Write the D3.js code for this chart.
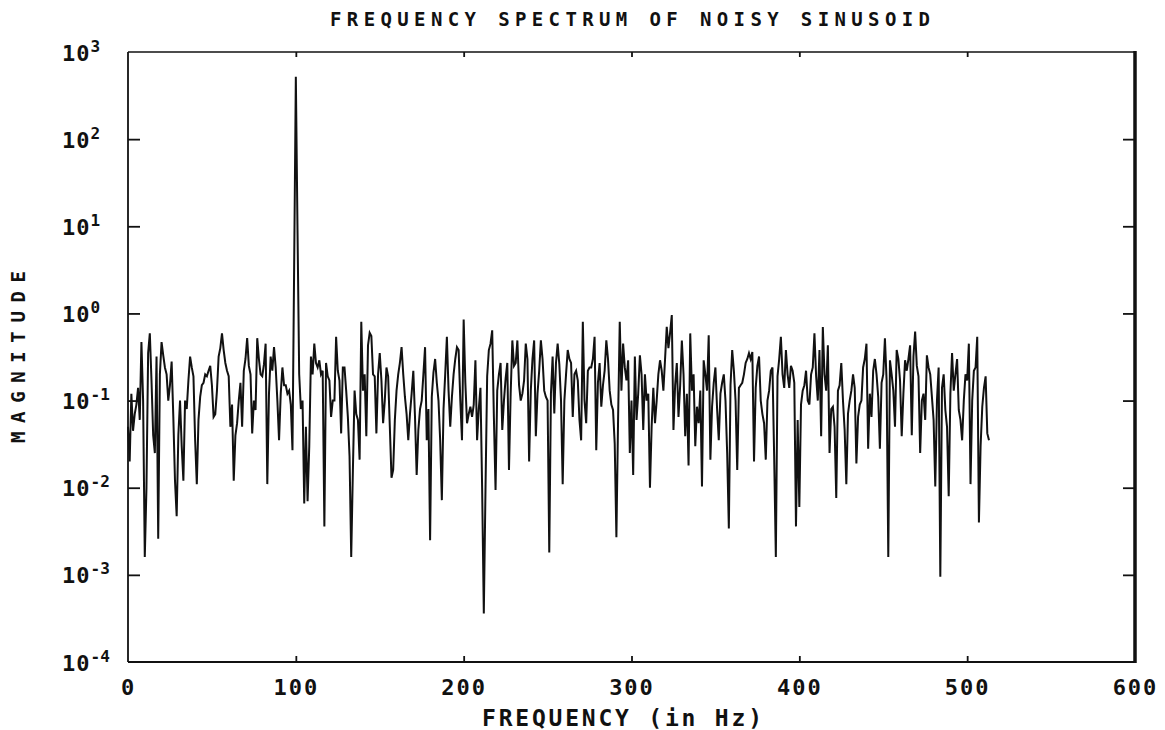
<!DOCTYPE html>
<html>
<head>
<meta charset="utf-8">
<script src="https://cdn.jsdelivr.net/npm/d3@7"></script>
<style>
body{margin:0;background:#fff}
text{font-family:"DejaVu Sans Mono",monospace;font-weight:bold;fill:#111}
</style>
</head>
<body>
<script>
// magnitude of each FFT bin, 1 Hz apart starting at 0 Hz
var magnitude=[
0.05,0.02,0.12,0.045,0.07,0.09,0.14,0.06,0.47,0.1,
0.0016,0.01,0.35,0.59,0.17,0.04,0.025,0.32,0.0026,0.2,
0.47,0.33,0.24,0.2,0.1,0.15,0.28,0.065,0.012,0.0047,
0.04,0.1,0.03,0.012,0.1,0.08,0.17,0.32,0.24,0.19,
0.035,0.011,0.06,0.11,0.15,0.16,0.2,0.19,0.22,0.25,
0.15,0.065,0.07,0.13,0.32,0.4,0.59,0.38,0.27,0.22,
0.19,0.05,0.09,0.012,0.04,0.055,0.1,0.16,0.05,0.22,
0.3,0.52,0.25,0.2,0.042,0.1,0.078,0.52,0.3,0.2,
0.19,0.26,0.45,0.011,0.12,0.32,0.22,0.41,0.24,0.1,
0.035,0.12,0.24,0.15,0.15,0.12,0.13,0.09,0.027,3.5,
520,9,0.2,0.08,0.1,0.0066,0.05,0.007,0.03,0.32,
0.2,0.45,0.27,0.24,0.29,0.2,0.22,0.0036,0.27,0.19,
0.17,0.065,0.1,0.1,0.54,0.22,0.17,0.042,0.24,0.24,
0.13,0.065,0.023,0.0016,0.016,0.13,0.07,0.06,0.021,0.8,
0.13,0.2,0.039,0.43,0.6,0.55,0.2,0.19,0.042,0.2,
0.35,0.17,0.055,0.1,0.24,0.19,0.05,0.013,0.016,0.06,
0.13,0.2,0.27,0.41,0.2,0.11,0.07,0.035,0.07,0.12,
0.22,0.065,0.014,0.046,0.08,0.1,0.2,0.41,0.035,0.08,
0.0025,0.11,0.21,0.3,0.16,0.1,0.035,0.0072,0.08,0.2,
0.54,0.13,0.05,0.11,0.2,0.3,0.41,0.38,0.1,0.035,
0.85,0.16,0.055,0.07,0.085,0.065,0.09,0.29,0.035,0.08,
0.14,0.01,0.00036,0.0094,0.19,0.38,0.45,0.64,0.065,0.0094,
0.13,0.2,0.27,0.046,0.1,0.18,0.27,0.016,0.12,0.49,
0.25,0.27,0.49,0.15,0.1,0.12,0.17,0.45,0.3,0.02,
0.13,0.3,0.49,0.039,0.12,0.22,0.49,0.3,0.13,0.11,
0.1,0.0018,0.12,0.32,0.071,0.27,0.45,0.26,0.1,0.011,
0.1,0.2,0.38,0.3,0.27,0.065,0.2,0.22,0.17,0.06,
0.035,0.8,0.1,0.055,0.22,0.24,0.24,0.3,0.54,0.027,
0.16,0.27,0.085,0.15,0.22,0.49,0.3,0.13,0.09,0.078,
0.032,0.0027,0.06,0.8,0.13,0.45,0.24,0.17,0.29,0.025,
0.1,0.014,0.32,0.06,0.12,0.33,0.2,0.046,0.2,0.1,
0.12,0.01,0.05,0.14,0.055,0.1,0.2,0.29,0.22,0.13,
0.3,0.7,0.4,0.6,0.96,0.046,0.15,0.27,0.065,0.15,
0.49,0.2,0.039,0.12,0.018,0.59,0.13,0.2,0.03,0.085,
0.055,0.13,0.0103,0.29,0.2,0.13,0.56,0.021,0.085,0.16,
0.24,0.08,0.035,0.12,0.16,0.2,0.1,0.025,0.0034,0.15,
0.38,0.22,0.1,0.016,0.14,0.15,0.16,0.2,0.27,0.3,
0.35,0.3,0.36,0.02,0.14,0.25,0.32,0.1,0.07,0.055,
0.021,0.1,0.13,0.22,0.24,0.023,0.0016,0.19,0.3,0.54,
0.2,0.14,0.38,0.2,0.14,0.25,0.22,0.16,0.0036,0.06,
0.006,0.09,0.13,0.15,0.22,0.1,0.09,0.2,0.24,0.59,
0.19,0.1,0.38,0.039,0.7,0.2,0.13,0.43,0.025,0.08,
0.085,0.05,0.0076,0.13,0.15,0.27,0.1,0.046,0.011,0.071,
0.1,0.13,0.2,0.14,0.019,0.065,0.09,0.1,0.24,0.3,
0.45,0.028,0.12,0.065,0.22,0.3,0.2,0.11,0.028,0.16,
0.2,0.52,0.17,0.0016,0.29,0.2,0.13,0.05,0.38,0.3,
0.17,0.039,0.12,0.29,0.22,0.3,0.43,0.04,0.32,0.62,
0.25,0.19,0.025,0.1,0.12,0.06,0.33,0.24,0.2,0.11,
0.06,0.0103,0.1,0.24,0.00095,0.14,0.2,0.078,0.05,0.008,
0.12,0.35,0.13,0.2,0.3,0.078,0.06,0.035,0.1,0.2,
0.17,0.45,0.011,0.1,0.22,0.24,0.54,0.004,0.03,0.085,
0.14,0.19,0.042,0.035
]
var freqStep=1
var xTicks=[0,100,200,300,400,500,600]
var yExps=[3,2,1,0,-1,-2,-3,-4]
var title="FREQUENCY SPECTRUM OF NOISY SINUSOID"
var xTitle="FREQUENCY (in Hz)"
var yTitle="MAGNITUDE"

var screen={width:1165,height:730}
var box={left:128,right:1135,top:52,bottom:662}

var svg=d3.select("body")
          .append("svg")
          .attr("width",screen.width)
          .attr("height",screen.height)

var x=d3.scaleLinear().domain([0,600]).range([box.left,box.right])
var y=d3.scaleLog().domain([1e-4,1e3]).range([box.bottom,box.top])

//////////////////////////////////////////////////////
// spectrum trace
var line=d3.line()
           .x(function(d,i){return x(i*freqStep)})
           .y(function(d){return y(d)})
svg.append("path")
   .datum(magnitude)
   .attr("d",line)
   .attr("fill","none")
   .attr("stroke","#111")
   .attr("stroke-width",2)

//////////////////////////////////////////////////////
// frame
svg.append("line").attr("x1",box.left).attr("y1",box.top).attr("x2",box.right).attr("y2",box.top)
   .attr("stroke","#111").attr("stroke-width",1.6)
svg.append("line").attr("x1",box.left).attr("y1",box.bottom).attr("x2",box.right).attr("y2",box.bottom)
   .attr("stroke","#111").attr("stroke-width",1.8)
svg.append("line").attr("x1",box.left).attr("y1",box.top).attr("x2",box.left).attr("y2",box.bottom)
   .attr("stroke","#111").attr("stroke-width",1.8)
svg.append("line").attr("x1",box.right).attr("y1",box.top-1).attr("x2",box.right).attr("y2",box.bottom+1)
   .attr("stroke","#111").attr("stroke-width",3.5)

var innerY=yExps.slice(1,-1).map(function(e){return Math.pow(10,e)})
var innerX=xTicks.slice(1,-1)

function noDomain(g){g.select(".domain").remove();g.selectAll(".tick line").attr("stroke","#111").attr("stroke-width",1.8)}

svg.append("g").attr("transform","translate("+box.left+",0)")
   .call(d3.axisRight(y).tickValues(innerY).tickSize(12).tickFormat(""))
   .call(noDomain)
svg.append("g").attr("transform","translate("+box.right+",0)")
   .call(d3.axisLeft(y).tickValues(innerY).tickSize(12).tickFormat(""))
   .call(noDomain)
svg.append("g").attr("transform","translate(0,"+box.bottom+")")
   .call(d3.axisTop(x).tickValues(innerX).tickSize(6).tickFormat(""))
   .call(noDomain)
svg.append("g").attr("transform","translate(0,"+box.top+")")
   .call(d3.axisBottom(x).tickValues(innerX).tickSize(5).tickFormat(""))
   .call(noDomain)

//////////////////////////////////////////////////////
// tick labels
var xLab=svg.append("g").attr("transform","translate(0,"+box.bottom+")")
   .call(d3.axisBottom(x).tickValues(xTicks).tickSize(0).tickPadding(17).tickFormat(d3.format("d")))
xLab.select(".domain").remove()
xLab.selectAll("text")
    .attr("font-size",22)
    .attr("font-family","DejaVu Sans Mono")
    .attr("font-weight","bold")
    .style("letter-spacing","2px")
    .attr("fill","#111")

var yLab=svg.append("g").attr("transform","translate("+box.left+",0)")
   .call(d3.axisLeft(y).tickValues(yExps.map(function(e){return Math.pow(10,e)})).tickSize(0).tickFormat(""))
yLab.select(".domain").remove()
yLab.selectAll(".tick").each(function(d){
  var e=Math.round(Math.log10(d))
  var t=d3.select(this).append("text")
          .attr("x",62-box.left)
          .attr("y",8)
          .attr("text-anchor","start")
          .attr("font-size",22)
          .style("letter-spacing","1px")
  t.append("tspan").text("10")
  t.append("tspan").attr("dy",-9).attr("font-size",16).style("letter-spacing","0px").text(e)
})

//////////////////////////////////////////////////////
// titles
svg.append("text")
   .attr("x",630)
   .attr("y",26)
   .attr("text-anchor","middle")
   .attr("font-size",19)
   .attr("textLength",600)
   .attr("lengthAdjust","spacing")
   .text(title)
svg.append("text")
   .attr("x",622)
   .attr("y",726)
   .attr("text-anchor","middle")
   .attr("font-size",23)
   .attr("textLength",280)
   .attr("lengthAdjust","spacing")
   .text(xTitle)
svg.append("text")
   .attr("transform","translate(25,"+((box.top+box.bottom)/2)+") rotate(-90)")
   .attr("text-anchor","middle")
   .attr("font-size",19)
   .attr("textLength",172)
   .attr("lengthAdjust","spacing")
   .text(yTitle)
</script>
</body>
</html>
